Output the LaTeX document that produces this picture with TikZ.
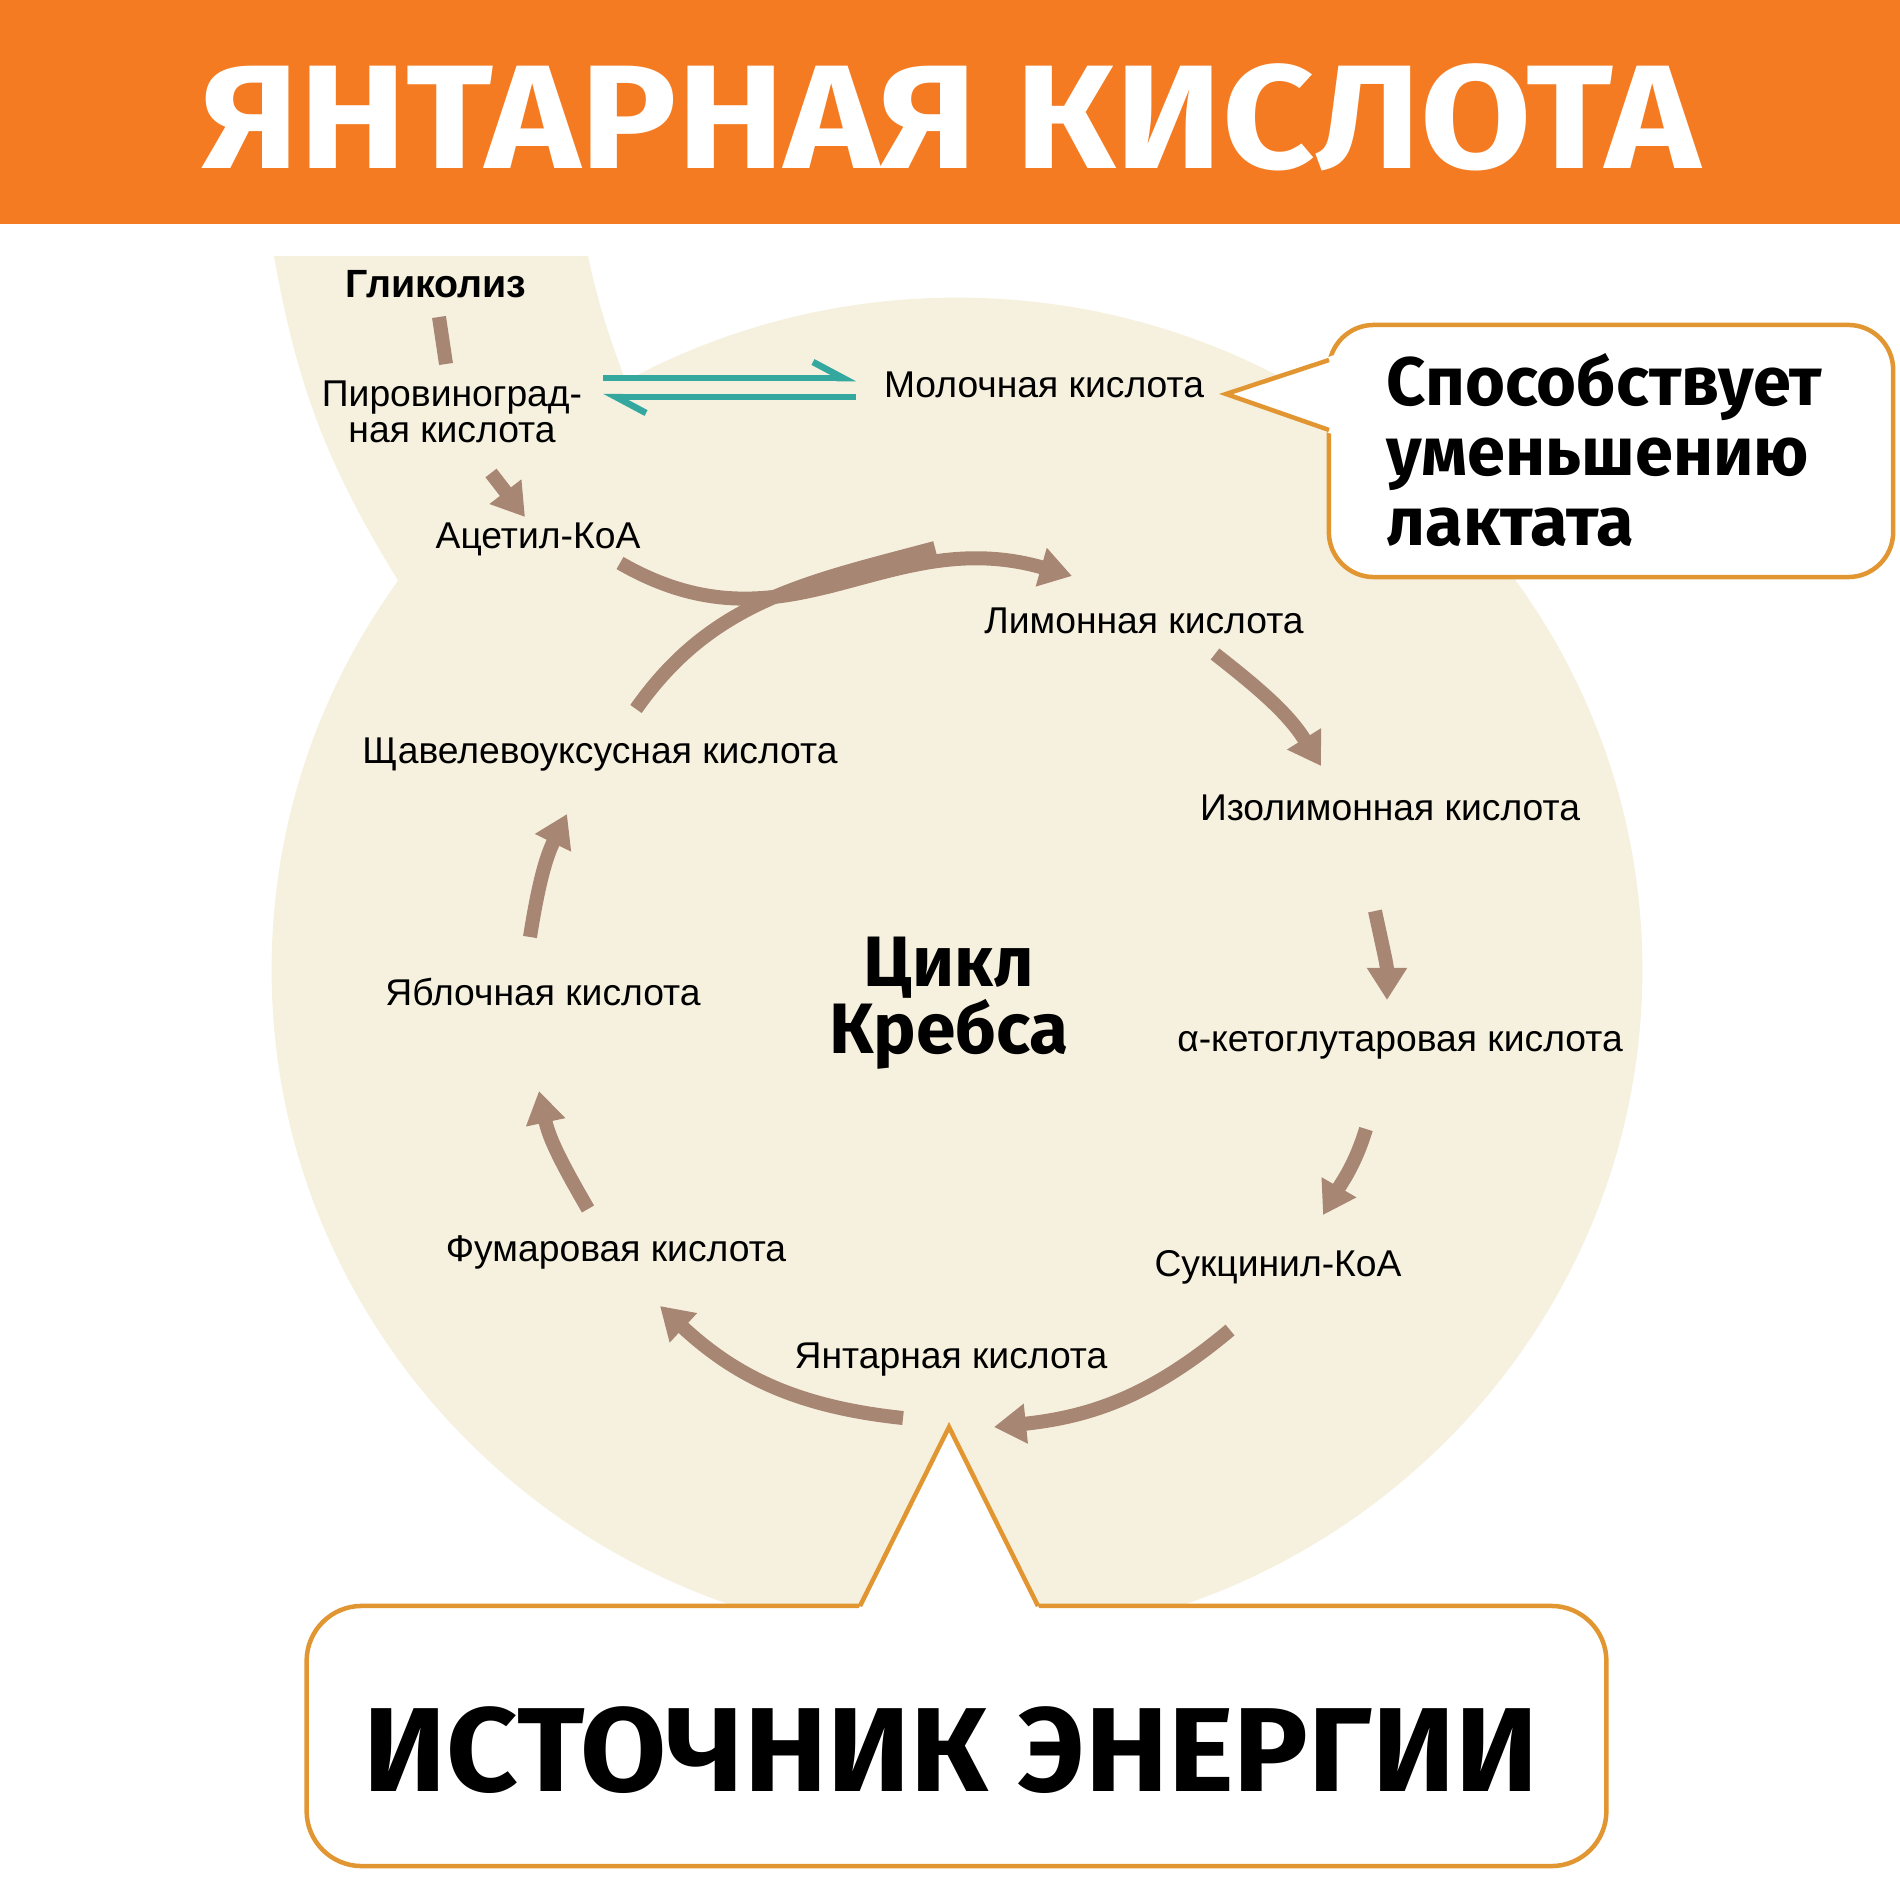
\documentclass[tikz,border=0pt]{standalone}
\usepackage{fontspec}
\usepackage{tikz}
\usetikzlibrary{arrows.meta}
\newfontfamily\labfont{Liberation Sans}
\newfontfamily\headfont{Fira Sans}
\newfontfamily\titlefont{Fira Sans}[FakeStretch=1.09]
\newfontfamily\energyfont{Fira Sans}[FakeStretch=1.045]
\definecolor{headorange}{RGB}{244,123,33}
\definecolor{blobbeige}{RGB}{246,241,222}
\definecolor{arrbrown}{RGB}{168,134,116}
\definecolor{arrteal}{RGB}{52,168,158}
\definecolor{callorange}{RGB}{226,150,50}

\begin{document}
\begin{tikzpicture}[x=0.01cm, y=-0.01cm,
  lab/.style={font=\labfont\fontsize{10.6}{10.3}\selectfont, inner sep=0pt},
  flow/.style={draw=arrbrown, line width=1.4mm, -{Triangle[length=3.2mm,width=3.8mm]}},
  eq/.style={draw=arrteal, line width=0.65mm, -{Straight Barb[harpoon,length=3mm,width=3.2mm]}},
  callout/.style={draw=callorange, line width=0.45mm, fill=white, rounded corners=4.5mm},
  callline/.style={draw=callorange, line width=0.45mm, line join=miter}]
  \useasboundingbox (0,0) rectangle (1900,1900);
  \fill[white] (0,0) rectangle (1900,1900);
  \fill[blobbeige] (957,970) ellipse [x radius=6.85cm, y radius=6.72cm];
  \fill[blobbeige] (274,256) -- (588,256) to[out=-78, in=110] (640,420)
    -- (600,620) -- (410,600) to[out=122, in=-80] (274,256) -- cycle;
  \fill[headorange] (0,0) rectangle (1900,224);
  \node[font=\titlefont\bfseries\fontsize{42}{46}\selectfont, text=white, inner sep=0pt] (title) at (951,117) {ЯНТАРНАЯ КИСЛОТА};

  \node[lab, font=\labfont\bfseries\fontsize{11.2}{12}\selectfont] (glyc) at (436,284) {Гликолиз};
  \node[lab, align=center] (pyr) at (452,412) {Пировиноград-\\ная кислота};
  \node[lab] (lact) at (1044,385) {Молочная кислота};
  \node[lab] (acetyl) at (538,539) {Ацетил-КоА};
  \node[lab] (citr) at (1144,621) {Лимонная кислота};
  \node[lab] (oxal) at (600,755) {Щавелевоуксусная кислота};
  \node[lab] (isocitr) at (1390,808) {Изолимонная кислота};
  \node[lab] (malate) at (543,992) {Яблочная кислота};
  \node[lab] (akg) at (1400,1045) {α-кетоглутаровая кислота};
  \node[lab] (fumar) at (616,1252) {Фумаровая кислота};
  \node[lab] (succoa) at (1278,1267) {Сукцинил-КоА};
  \node[lab] (amber) at (951,1360) {Янтарная кислота};
  \node[font=\headfont\bfseries\fontsize{20.3}{19}\selectfont, align=center, inner sep=0pt] (krebs) at (949,1003) {Цикл\\Кребса};

  \coordinate (a1) at (439,317);
  \coordinate (a2) at (446,364);
  \coordinate (b1) at (491,473);
  \coordinate (b2) at (525,517);
  \coordinate (t1) at (603,378);
  \coordinate (t2) at (856,378);
  \coordinate (t3) at (856,397);
  \coordinate (t4) at (603,397);
  \coordinate (m1) at (620,563);
  \coordinate (m2) at (1072,576);
  \coordinate (o1) at (636,709);
  \coordinate (o2) at (935,548);
  \coordinate (c1) at (1215,654);
  \coordinate (c2) at (1321,766);
  \coordinate (d1) at (1375,911);
  \coordinate (d2) at (1387,1000);
  \coordinate (e1) at (1366,1129);
  \coordinate (e2) at (1323,1215);
  \coordinate (f1) at (1230,1330);
  \coordinate (f2) at (994,1427);
  \coordinate (h1) at (903,1418);
  \coordinate (h2) at (660,1306);
  \coordinate (i1) at (588,1209);
  \coordinate (i2) at (539,1091);
  \coordinate (j1) at (530,937);
  \coordinate (j2) at (567,814);

  \draw[draw=arrbrown, line width=1.4mm] (a1) -- (a2);
  \draw[flow] (b1) -- (b2);
  \draw[eq] (t1) -- (t2);
  \draw[eq] (t3) -- (t4);
  \draw[draw=arrbrown, line width=1.4mm] (o1) to[out=55, in=195] (o2);
  \draw[flow] (m1) to[out=-30, in=164, looseness=1.1] (m2);
  \draw[flow] (c1) to[out=-38, in=122] (c2);
  \draw[flow] (d1) to[out=-78, in=90] (d2);
  \draw[flow] (e1) to[out=-107, in=60] (e2);
  \draw[flow] (f1) to[out=220, in=6] (f2);
  \draw[flow] (h1) to[out=174, in=317] (h2);
  \draw[flow] (i1) to[out=120, in=282] (i2);
  \draw[flow] (j1) to[out=81, in=244] (j2);

  \node[callout, minimum width=5.64cm, minimum height=2.52cm] (lactbox) at (1611,451) {};
  \coordinate (lacttip) at (1226,394);
  \fill[white] (lacttip) -- (1337,354) -- (1337,436) -- cycle;
  \draw[callline] (1329,360) -- (lacttip) -- (1329,430);
  \node[font=\headfont\bfseries\fontsize{19.5}{19.8}\selectfont, align=left, anchor=west, inner sep=0pt] (lacttext) at (1386,450) {Способствует\\уменьшению\\лактата};

  \node[callout, rounded corners=5.5mm, minimum width=12.99cm, minimum height=2.6cm] (energybox) at (956.5,1736) {};
  \coordinate (energytip) at (949,1427);
  \fill[white] (energytip) -- (856,1614) -- (1042,1614) -- cycle;
  \draw[callline] (860,1606) -- (energytip) -- (1038,1606);
  \node[font=\energyfont\bfseries\fontsize{34}{36}\selectfont, inner sep=0pt] (energytext) at (951,1750) {ИСТОЧНИК ЭНЕРГИИ};
\end{tikzpicture}
\end{document}
